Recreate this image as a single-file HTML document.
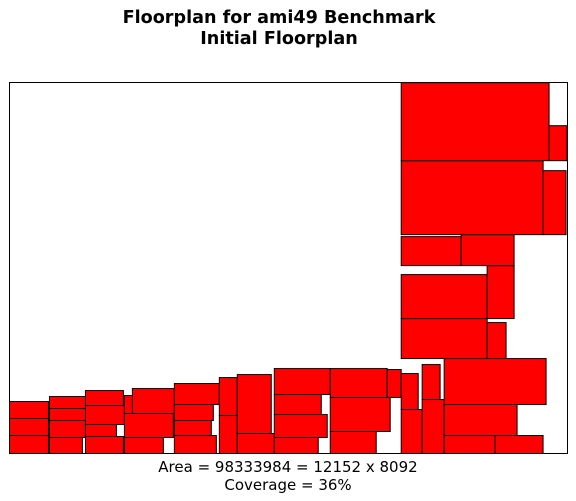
<!DOCTYPE html>
<html><head><meta charset="utf-8"><style>
body{margin:0;background:#fff;width:576px;height:501px;overflow:hidden}
svg{display:block;font-family:"DejaVu Sans","Liberation Sans",sans-serif}
</style></head><body>
<svg id="chart" width="576" height="501">
<text x="279" y="23" text-anchor="middle" font-size="17.6" font-weight="bold">Floorplan for ami49 Benchmark</text>
<text x="279" y="44" text-anchor="middle" font-size="17.6" font-weight="bold">Initial Floorplan</text>
<g id="blocks"></g>
<rect x="9.5" y="82.5" width="558" height="371" fill="none" stroke="#000" stroke-width="1"/>
<text x="288" y="472" text-anchor="middle" font-size="15">Area = 98333984 = 12152 x 8092</text>
<text x="288" y="490" text-anchor="middle" font-size="15">Coverage = 36%</text>
</svg>
<script>
const chipW = 12152;
const chipH = 8092;
const blockX = [0,0,0,872,872,872,872,1657,1657,1657,1657,2507,2681,2507,2507,3597,3597,3597,3597,4578,4578,4970,4970,5777,5777,5777,5777,6998,8241,6998,6998,8546,8546,9003,9003,9483,9483,9483,10595,8546,10420,8546,10420,8546,9854,8546,11641,8546,11772];
const blockY = [763,392,0,981,719,349,0,1046,632,371,0,872,872,349,0,1068,719,392,0,828,0,436,0,1286,850,349,0,1221,1221,480,0,959,0,1177,0,1068,392,0,0,2071,2071,2943,2943,4098,4098,4774,4774,6387,6387];
const blockW = [850,850,850,807,807,785,719,828,850,676,828,196,916,1068,850,981,850,806,916,392,392,741,807,1221,1025,1155,959,1243,305,1308,1003,371,458,392,480,2224,1591,1112,1046,1875,414,1875,589,1308,1155,3096,501,3226,392];
const blockH = [371,371,392,262,262,371,349,327,414,262,371,392,545,523,349,458,349,327,392,828,828,1286,436,567,436,501,349,632,610,741,480,785,959,763,1177,1003,676,392,392,872,785,959,1155,632,676,1613,1395,1700,763];
const X0=9.5, Y0=82.5, PW=557, PH=371;
function sx(v){return X0+v/chipW*PW;}
function sy(v){return Y0+PH-v/chipH*PH;}
const g=document.getElementById('blocks');
const NS='http://www.w3.org/2000/svg';
for(let i=0;i<blockX.length;i++){
  const r=document.createElementNS(NS,'rect');
  const x=sx(blockX[i]), y=sy(blockY[i]+blockH[i]);
  r.setAttribute('x',x);
  r.setAttribute('y',y);
  r.setAttribute('width',sx(blockX[i]+blockW[i])-x);
  r.setAttribute('height',sy(blockY[i])-y);
  r.setAttribute('fill','#ff0000');
  r.setAttribute('stroke','#000');
  r.setAttribute('stroke-width','1');
  
  
  g.appendChild(r);
}
</script>
</body></html>
